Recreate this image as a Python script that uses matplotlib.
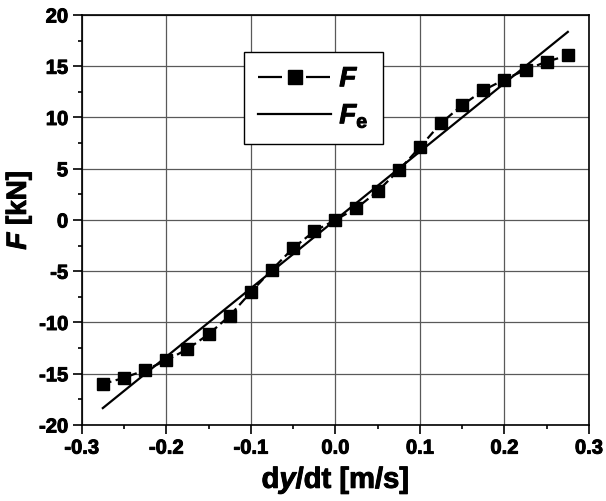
import matplotlib
matplotlib.use("Agg")
import matplotlib.pyplot as plt
import matplotlib.patheffects as pe
from matplotlib.ticker import MultipleLocator
from matplotlib.legend_handler import HandlerLine2D

plt.rcParams['font.family'] = ['Liberation Sans', 'DejaVu Sans']
plt.rcParams['font.weight'] = 'bold'
plt.rcParams['mathtext.fontset'] = 'custom'
plt.rcParams['mathtext.it'] = 'Liberation Sans:italic:bold'
plt.rcParams['mathtext.rm'] = 'Liberation Sans:bold'
plt.rcParams['mathtext.bf'] = 'Liberation Sans:bold'

# data
velocity = [-0.275, -0.25, -0.225, -0.2, -0.175, -0.15, -0.125, -0.1, -0.075, -0.05, -0.025, 0.0,
            0.025, 0.05, 0.075, 0.1, 0.125, 0.15, 0.175, 0.2, 0.225, 0.25, 0.275]
force = [-16.0, -15.4, -14.65, -13.7, -12.6, -11.15, -9.35, -7.05, -4.85, -2.75, -1.1, 0.0,
         1.15, 2.8, 4.85, 7.1, 9.45, 11.2, 12.65, 13.7, 14.65, 15.45, 16.05]
fe_velocity = [-0.275, 0.275]
fe_force = [-18.35, 18.35]
x_ticks = [-0.3, -0.2, -0.1, 0.0, 0.1, 0.2, 0.3]
y_ticks = [-20, -15, -10, -5, 0, 5, 10, 15, 20]

thick = [pe.withStroke(linewidth=0.7, foreground='black')]

fig = plt.figure(figsize=(6.06, 5.01), dpi=100)
ax = fig.add_axes([0.1348, 0.1517, 0.8371, 0.8184])

line_f, = ax.plot(velocity, force, color='black', linestyle=(0, (4.0, 2.0)), linewidth=1.6,
                  marker='s', markersize=8, label='$F$')
line_fe, = ax.plot(fe_velocity, fe_force, color='black', linestyle='-', linewidth=1.6,
                   label='$F_\\mathrm{e}$')

ax.set_xlim(-0.3, 0.3)
ax.set_ylim(-20, 20)
ax.set_xticks(x_ticks)
ax.set_xticklabels([f"{v:.1f}" for v in x_ticks], fontsize=14.5, fontweight='bold')
ax.set_yticks(y_ticks)
ax.set_yticklabels([str(v) for v in y_ticks], fontsize=14.5, fontweight='bold')
ax.xaxis.set_minor_locator(MultipleLocator(0.05))
ax.yaxis.set_minor_locator(MultipleLocator(2.5))
for lab in ax.get_xticklabels() + ax.get_yticklabels():
    lab.set_path_effects(thick)

ax.tick_params(which='major', direction='out', length=6.3, width=1.2, pad=3.5)
ax.tick_params(which='minor', direction='out', length=3.2, width=1.2)

ax.grid(True, which='major', color='0.35', linewidth=0.9)
ax.set_axisbelow(True)
for s in ax.spines.values():
    s.set_linewidth(1.2)

xl = ax.set_xlabel('d$y$/dt [m/s]', fontsize=21, fontweight='bold')
yl = ax.set_ylabel('$F$ [kN]', fontsize=20, fontweight='bold')
ax.xaxis.set_label_coords(0.5, -0.095)
ax.yaxis.set_label_coords(-0.094, 0.524)
xl.set_path_effects(thick)
yl.set_path_effects(thick)


def legend_dash(legend_line, orig_line):
    legend_line.update_from(orig_line)
    legend_line.set_linestyle((0, (10.8, 10.8)))


leg = ax.legend(loc='upper left', bbox_to_anchor=(0.32, 0.91), borderaxespad=0,
                fontsize=20, frameon=True, fancybox=False, edgecolor='black', framealpha=1,
                handlelength=2.6, borderpad=0.52, labelspacing=0.36, handletextpad=0.31,
                markerscale=1.2,
                handler_map={line_f: HandlerLine2D(update_func=legend_dash)})
leg.get_frame().set_linewidth(1.0)
for t in leg.get_texts():
    t.set_path_effects(thick)

fig.savefig('out.png', dpi=100)
